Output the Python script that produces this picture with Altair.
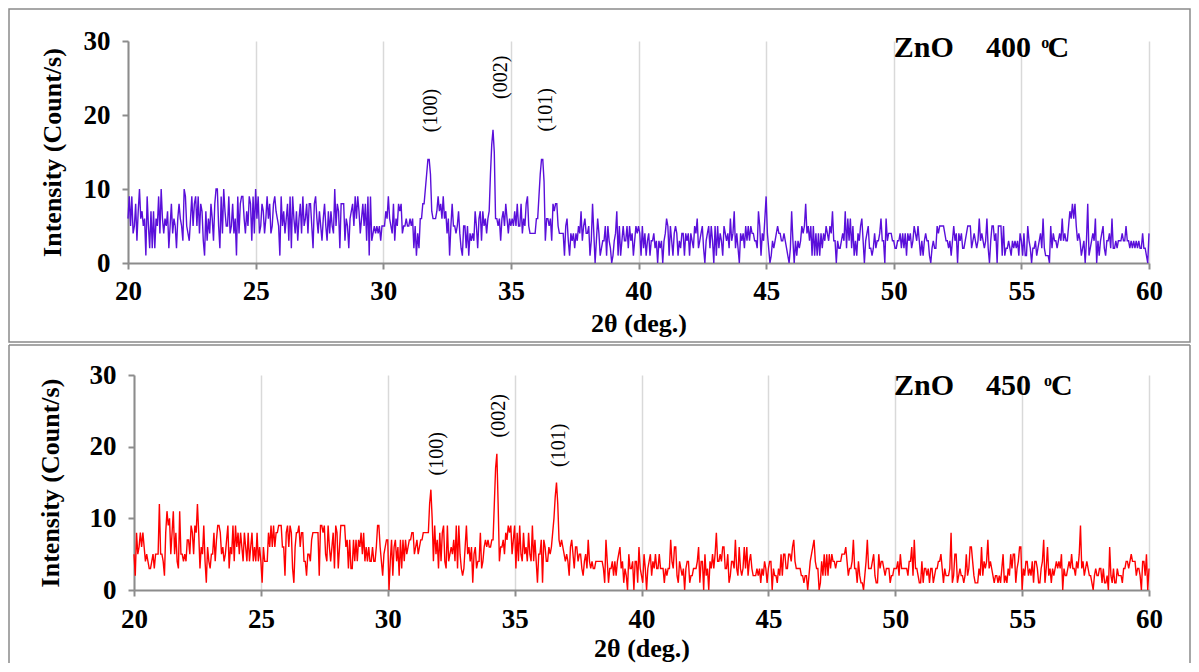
import altair as alt
import pandas as pd

FONT = "Liberation Serif"
STEP = 0.05

# ---- ZnO 400 C : intensity rows, one row per degree (20.00 .. 59.95, step 0.05) ----
t400_rows = [
    [6,9,5,9,4, 5,8,3,7,10, 6,7,5,6,1, 9,5,2,7,2],
    [7,2,6,5,9, 4,10,6,4,6, 5,7,2,5,8, 4,6,5,2,6],
    [8,6,5,3,10, 9,5,4,3,6, 9,5,8,9,5, 9,4,8,7,3],
    [1,7,3,6,4, 8,6,3,8,10, 10,5,2,9,4, 10,7,5,5,9],
    [4,5,8,4,6, 1,9,4,8,9, 9,6,4,7,5, 9,8,3,9,4],
    [10,6,9,4,5, 8,7,4,6,9, 6,8,4,5,8, 9,7,6,5,1],
    [9,5,7,4,6, 8,3,9,2,9, 6,4,7,3,6, 8,4,9,5,6],
    [8,4,8,8,5, 2,8,9,6,4, 7,5,3,6,8, 5,3,7,4,7],
    [5,4,10,5,8, 7,2,8,8,8, 3,6,5,2,6, 7,8,5,9,6],
    [9,7,4,6,8, 5,8,3,9,1, 9,3,4,5,4, 5,4,5,3,5],
    [5,5,7,6,9, 6,5,4,8,3, 6,5,8,7,8, 4,5,5,6,5],
    [5,6,5,6,2, 5,1,4,2,6, 6,8,8,10,12, 14,14,12,7,6],
    [6,6,7,9,7, 8,6,9,6,7, 4,6,1,5,8, 5,5,4,5,7],
    [4,2,1,5,5, 2,5,1,4,3, 4,3,7,5,2, 6,7,3,7,5],
    [6,4,6,7,12, 16,18,15,6,6, 5,6,3,6,7, 5,8,6,4,6],
    [5,6,5,7,5, 8,5,5,8,4, 6,5,8,9,5, 4,4,4,4,4],
    [6,6,9,12,14, 14,11,3,6,6, 5,6,3,8,7, 8,8,5,4,4],
    [4,4,1,5,6, 3,1,4,3,4, 2,4,3,5,4, 7,3,5,6,4],
    [4,5,1,3,8, 4,0,3,6,4, 1,2,3,3,5, 1,5,3,2,0],
    [1,3,4,7,1, 5,1,3,5,3, 3,5,2,5,3, 4,1,3,5,4],
    [5,4,1,5,2, 4,1,3,4,1, 3,3,4,2,3, 0,3,2,3,0],
    [3,4,6,5,1, 5,3,1,4,5, 4,1,3,2,4, 4,1,4,3,4],
    [1,4,3,2,5, 4,6,2,3,4, 5,2,0,3,4, 5,2,5,3,0],
    [5,1,5,2,4, 3,1,5,4,3, 4,2,6,3,4, 7,2,4,2,0],
    [4,3,4,2,5, 3,5,3,5,4, 4,3,3,2,7, 5,1,4,3,6],
    [9,4,2,0,1, 3,2,3,4,5, 4,4,3,3,4, 3,2,1,0,2],
    [7,3,0,3,1, 3,2,3,5,4, 5,8,4,5,3, 5,1,5,1,4],
    [1,4,1,4,2, 4,3,5,4,3, 5,4,7,3,3, 0,3,2,2,3],
    [4,3,7,2,6, 3,6,2,5,1, 3,1,4,3,5, 6,3,0,3,4],
    [5,2,2,1,2, 4,2,3,3,4, 6,3,3,0,6, 3,4,4,4,3],
    [3,2,2,3,3, 4,2,4,2,4, 1,4,3,4,2, 3,5,4,3,5],
    [3,1,3,1,3, 4,3,3,1,0, 2,3,2,2,5, 4,5,5,5,5],
    [4,3,3,2,3, 1,3,5,3,4, 0,4,3,4,2, 2,3,4,5,5],
    [5,2,3,4,3, 2,3,6,3,4, 3,2,3,6,2, 0,3,5,5,3],
    [4,0,5,5,5, 1,5,1,2,2, 3,2,1,3,2, 3,2,3,1,4],
    [3,1,4,1,1, 5,3,2,0,2, 2,3,1,2,3, 4,2,6,2,1],
    [1,1,0,5,2, 4,3,3,2,3, 4,3,6,3,4, 3,3,5,7,6],
    [8,6,8,5,3, 4,3,1,2,3, 0,3,8,1,2, 3,4,3,6,0],
    [3,1,3,4,5, 2,1,3,3,4, 2,6,2,2,3, 2,3,3,3,4],
    [3,3,5,3,3, 2,3,2,3,2, 3,2,3,2,2, 4,2,2,1,0],
]
t400_last = 4  # value at 60.00

# ---- ZnO 450 C ----
t450_rows = [
    [5,2,8,5,6, 8,6,8,6,4, 5,4,3,3,4, 5,3,5,5,5],
    [12,5,5,4,2, 8,11,9,10,5, 8,11,5,8,4, 3,11,5,5,4],
    [5,4,7,7,5, 9,8,5,9,8, 12,8,3,6,5, 9,4,1,6,4],
    [3,5,5,8,4, 7,9,9,8,5, 6,4,5,7,9, 3,6,5,9,4],
    [9,6,8,5,8, 6,4,8,6,4, 8,4,6,8,4, 6,4,8,4,6],
    [4,1,6,4,4, 4,8,6,9,6, 9,6,8,8,9, 9,9,6,6,2],
    [8,9,6,9,8, 3,1,6,8,8, 9,6,8,8,4, 4,2,5,5,4],
    [7,8,8,8,8, 8,2,9,9,8, 9,5,4,9,6, 4,6,8,3,9],
    [8,3,6,9,9, 9,9,6,7,3, 7,3,3,7,4, 7,4,7,6,8],
    [5,8,4,6,4, 6,4,4,6,4, 4,6,9,9,6, 4,2,5,6,7],
    [7,0,4,7,2, 6,7,4,6,2, 7,3,7,4,7, 5,6,7,7,8],
    [8,5,6,7,5, 6,7,7,8,8, 8,8,8,12,14, 10,4,9,5,7],
    [3,8,4,8,9, 4,3,9,4,5, 6,5,7,4,9, 3,9,5,3,2],
    [3,6,9,5,6, 4,6,1,5,6, 3,4,4,8,3, 4,6,7,6,7],
    [6,6,7,7,12, 17,19,12,4,6, 6,7,5,8,7, 9,8,9,5,7],
    [9,3,8,4,9, 5,4,8,5,6, 4,8,5,4,9, 4,7,4,1,5],
    [5,7,1,7,6, 4,4,6,5,6, 8,10,13,15,12, 7,6,7,6,5],
    [4,5,4,2,6, 7,5,3,6,6, 4,5,5,3,2, 4,5,3,7,4],
    [3,4,3,3,4, 4,4,4,4,4, 3,1,7,4,1, 3,3,4,2,4],
    [2,4,5,6,3, 4,1,3,2,0, 5,3,3,4,0, 4,4,1,6,3],
    [2,1,5,3,0, 3,4,5,2,4, 3,5,3,3,5, 3,3,3,1,3],
    [2,3,3,7,4, 3,6,6,2,1, 4,3,2,3,0, 3,4,4,1,2],
    [2,3,3,3,4, 6,1,4,4,0, 5,2,3,0,4, 3,5,3,5,8],
    [4,4,5,4,6, 6,3,3,5,1, 2,4,4,3,7, 3,2,6,3,2],
    [3,6,3,6,2, 4,5,3,2,2, 2,3,2,3,1, 3,2,4,3,1],
    [3,4,4,0,3, 2,2,1,3,2, 5,2,5,5,3, 3,5,5,4,6],
    [7,4,3,3,3, 3,2,2,1,2, 2,0,2,4,5, 6,7,4,3,3],
    [0,1,4,2,5, 2,5,2,5,3, 5,4,4,3,4, 4,4,4,5,5],
    [5,6,4,2,3, 3,4,7,3,3, 1,4,2,1,1, 0,2,4,7,3],
    [3,3,4,5,2, 1,1,5,3,4, 4,3,2,3,3, 3,1,2,2,3],
    [3,3,4,2,5, 3,3,3,3,3, 2,4,4,6,2, 7,3,3,2,1],
    [1,4,1,3,3, 2,3,1,3,3, 1,2,3,3,4, 4,5,3,1,3],
    [2,2,2,3,8, 1,2,5,5,1, 2,3,2,2,1, 2,5,2,3,6],
    [6,4,2,1,1, 1,3,2,6,2, 4,3,4,7,3, 4,3,2,1,2],
    [2,1,2,1,3, 5,1,2,1,3, 2,5,3,5,5, 1,3,4,6,6],
    [0,3,2,4,4, 2,3,2,4,1, 4,4,3,1,1, 3,4,7,1,3],
    [6,2,3,1,3, 2,3,4,3,4, 3,5,0,3,2, 2,3,4,3,5],
    [3,3,2,4,3, 5,9,3,4,2, 3,4,3,2,2, 1,0,2,3,2],
    [2,3,3,1,3, 1,1,2,0,6, 2,1,3,1,1, 3,2,2,2,1],
    [3,3,4,4,3, 4,5,4,4,4, 2,3,3,2,0, 4,4,2,5,0],
]
t450_last = 3

x_ticks = [20, 25, 30, 35, 40, 45, 50, 55, 60]
y_ticks_top = [0, 5, 10, 15, 20, 25, 30]
y_ticks_bottom = [0, 10, 20, 30]

peak_labels = ["(100)", "(002)", "(101)"]
peak_x_top = [31.87, 34.61, 36.38]
peak_y_top = [20.6, 25.1, 20.7]
peak_x_bottom = [31.94, 34.38, 36.73]
peak_y_bottom = [19.0, 24.3, 20.2]


def series(rows, last):
    xs, ys = [], []
    for d, row in enumerate(rows):
        assert len(row) == 20, (20 + d, len(row))
        for j, v in enumerate(row):
            xs.append(round(20 + d + j * STEP, 2))
            ys.append(v)
    xs.append(60.0)
    ys.append(last)
    return pd.DataFrame({"x": xs, "y": ys})


AXIS_GREY = "#8c8c8c"
FRAME = "#8a8a8a"
W = 1021
LABEL_SIZE = 27
TITLE_SIZE = 26


def panel(df, color, yticks, h, x_shift, y_title_pad, x_title_pad, x_label_pad,
          px, py, temp, zx, tx, ox, cx, base_y, sup_y):
    xs = alt.Scale(domain=[20, 60], range=[x_shift, W], nice=False)
    ys = alt.Scale(domain=[0, 30], nice=False)
    xaxis = alt.Axis(values=x_ticks, title="2θ (deg.)", grid=True, gridColor="#d9d9d9",
                     gridWidth=1.5, domainColor=AXIS_GREY, domainWidth=2, tickColor=AXIS_GREY,
                     tickWidth=2, tickSize=6, labelFont=FONT, labelFontSize=LABEL_SIZE,
                     labelFontWeight="bold", labelColor="black", labelPadding=x_label_pad,
                     labelFlush=False, labelOverlap=False,
                     titleFont=FONT, titleFontSize=TITLE_SIZE, titleFontWeight="bold",
                     titleColor="black", titlePadding=x_title_pad, format="d")
    yaxis = alt.Axis(values=yticks, title="Intensity (Count/s)", grid=False,
                     domainColor=AXIS_GREY, domainWidth=2, tickColor=AXIS_GREY, tickWidth=2,
                     tickSize=6, labelFont=FONT, labelFontSize=LABEL_SIZE, labelFontWeight="bold",
                     labelColor="black", labelPadding=12, labelFlush=False, labelOverlap=False,
                     titleFont=FONT, titleFontSize=TITLE_SIZE, titleFontWeight="bold",
                     titleColor="black", titlePadding=y_title_pad, offset=-x_shift, format="d")
    line = alt.Chart(df).mark_line(color=color, strokeWidth=1.4).encode(
        x=alt.X("x:Q", scale=xs, axis=xaxis),
        y=alt.Y("y:Q", scale=ys, axis=yaxis),
    )
    pk = pd.DataFrame({"x": px, "y": py, "t": peak_labels})
    peaks = alt.Chart(pk).mark_text(angle=270, font=FONT, fontSize=20, color="black",
                                    align="center", baseline="middle").encode(
        x=alt.X("x:Q", scale=xs), y=alt.Y("y:Q", scale=ys), text="t:N")
    lab = pd.DataFrame({"x": [zx, tx, cx], "y": [base_y] * 3, "t": ["ZnO", temp, "C"]})
    label = alt.Chart(lab).mark_text(font=FONT, fontSize=30, fontWeight="bold", color="black",
                                     align="left", baseline="alphabetic").encode(
        x=alt.X("x:Q", scale=xs), y=alt.Y("y:Q", scale=ys), text="t:N")
    sup = alt.Chart(pd.DataFrame({"x": [ox], "y": [sup_y], "t": ["o"]})).mark_text(
        font=FONT, fontSize=16, fontWeight="bold", color="black", align="left",
        baseline="alphabetic").encode(x=alt.X("x:Q", scale=xs), y=alt.Y("y:Q", scale=ys),
                                      text="t:N")
    return alt.layer(line, peaks, label, sup).properties(width=W, height=h)


one = pd.DataFrame({"a": [0]})


def frame_rect(top, bottom, right):
    return alt.Chart(one).mark_rect(
        fillOpacity=0, stroke=FRAME, strokeWidth=1.5, clip=False).encode(
        x=alt.value(-119), x2=alt.value(right), y=alt.value(top), y2=alt.value(bottom))


def frame_open(top, bottom, right):
    # invisible box that fixes the panel bounds, plus the three visible sides
    box = alt.Chart(one).mark_rect(fillOpacity=0, strokeOpacity=0, clip=False).encode(
        x=alt.value(-119), x2=alt.value(right), y=alt.value(top), y2=alt.value(bottom))
    sides = alt.Chart(pd.DataFrame({"x1": [-119, -119, right], "x2": [right, -119, right],
                                    "y1": [top, top, top], "y2": [top, bottom, bottom]}))
    rules = sides.mark_rule(stroke=FRAME, strokeWidth=1.5, clip=False).encode(
        x=alt.X("x1:Q", scale=None), x2="x2:Q", y=alt.Y("y1:Q", scale=None), y2="y2:Q")
    return box + rules


RIGHT = 1062
top = panel(series(t400_rows, t400_last), "#5A0FDA", y_ticks_top, 222, 0, 18, 6, 9,
            peak_x_top, peak_y_top, "400", 50.0, 53.61, 55.78, 56.02, 27.8, 29.0)
bottom = panel(series(t450_rows, t450_last), "#FF0000", y_ticks_bottom, 215, 6, 26, 3, 10,
               peak_x_bottom, peak_y_bottom, "450", 49.95, 53.58, 55.86, 56.14, 27.2, 28.5)

top = alt.layer(frame_rect(-32, 301, RIGHT), top)
bottom = alt.layer(frame_open(-30, 288, RIGHT), bottom)

chart = alt.vconcat(top, bottom, spacing=112, bounds="flush").configure_view(
    stroke=None).properties(
    padding=0,
)

chart.save("out.html", embed_options={"renderer": "svg", "actions": False})
